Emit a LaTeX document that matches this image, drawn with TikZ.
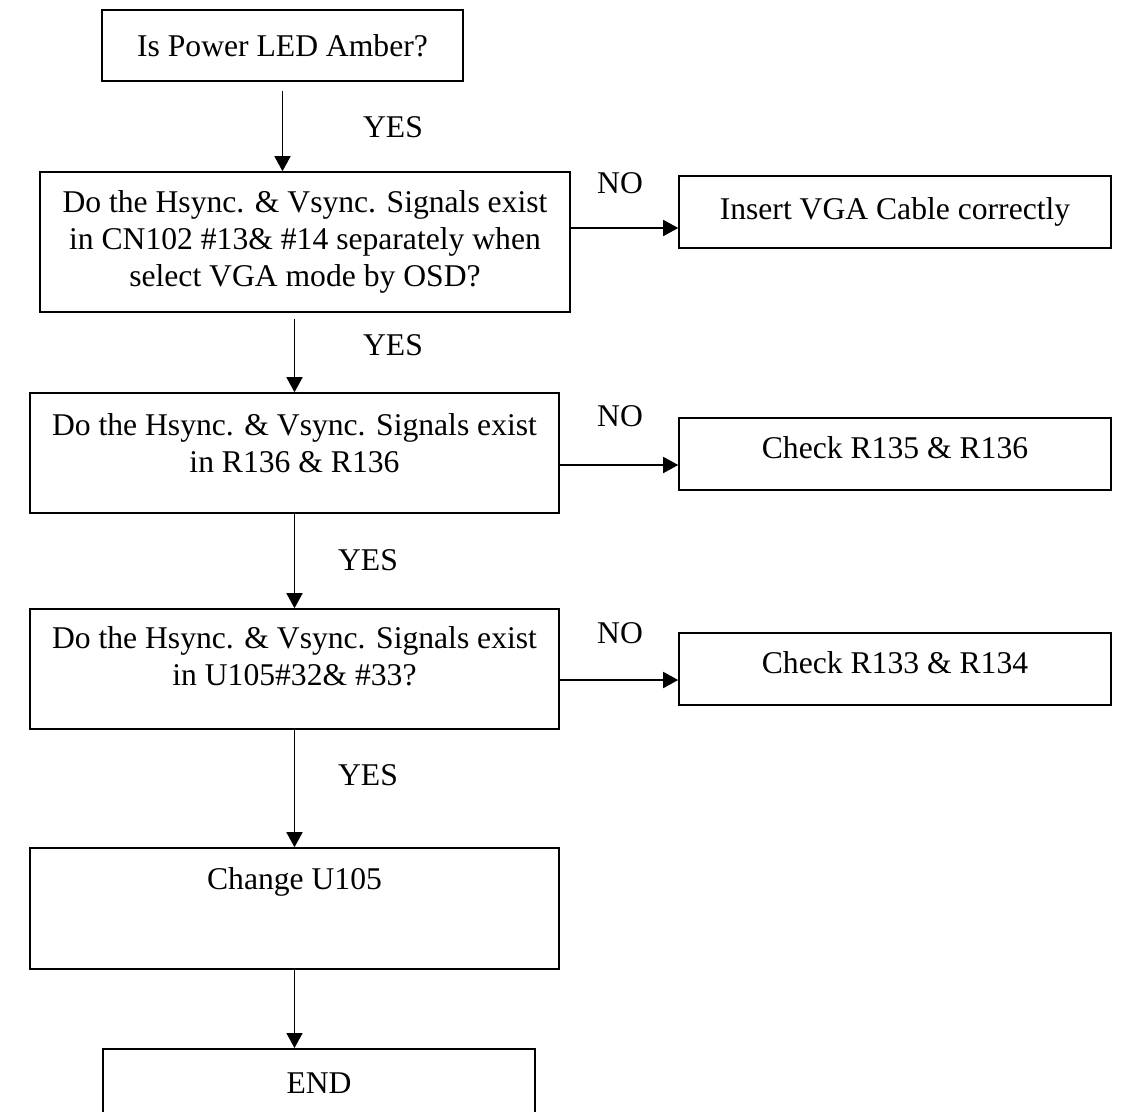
\documentclass[tikz,border=0pt]{standalone}
\usepackage{fontspec}
\setmainfont{Liberation Serif}
\usetikzlibrary{arrows.meta}

\tikzset{
	box/.style={shape=rectangle, draw=black, line width=0.9pt, align=center, inner sep=0pt},
	flow/.style={-{Triangle[length=0.3cm,width=0.32cm]}, line width=0.9pt},
}

\begin{document}
\begin{tikzpicture}[font=\fontsize{18}{21}\selectfont]
	
	\clip (0,0) rectangle (22.46,-22.22);
	\fill[white] (0,0) rectangle (22.46,-22.22);
	
	\node[box, minimum width=7.22cm, minimum height=1.42cm] (start) at (5.65, -0.91)  {Is Power LED Amber?};
	\node[box, minimum width=10.6cm, minimum height=2.8cm] (q1) at (6.1, -4.84)       {Do the Hsync. \& Vsync. Signals exist\\in CN102 \#13\& \#14 separately when\\select VGA mode by OSD?};
	\node[box, minimum width=8.64cm, minimum height=1.44cm] (cable) at (17.9, -4.24)  {Insert VGA Cable correctly};
	\node[box, minimum width=10.58cm, minimum height=2.4cm, text depth=0.4cm] (q2) at (5.89, -9.06)   {Do the Hsync. \& Vsync. Signals exist\\in R136 \& R136};
	\node[box, minimum width=8.64cm, minimum height=1.44cm, text depth=0.24cm] (r135) at (17.9, -9.08) {Check R135 \& R136};
	\node[box, minimum width=10.58cm, minimum height=2.4cm, text depth=0.52cm] (q3) at (5.89, -13.38)  {Do the Hsync. \& Vsync. Signals exist\\in U105\#32\& \#33?};
	\node[box, minimum width=8.64cm, minimum height=1.44cm, text depth=0.24cm] (r133) at (17.9, -13.38) {Check R133 \& R134};
	\node[box, minimum width=10.58cm, minimum height=2.42cm, text depth=1.2cm] (change) at (5.89, -18.17) {Change U105};
	\node[box, minimum width=8.64cm, minimum height=1.36cm, anchor=north] (end) at (6.38, -20.96) {END};
	
	\node (yes1) at (7.86, -2.54)  {YES};
	\node (yes2) at (7.86, -6.9)   {YES};
	\node (yes3) at (7.36, -11.2)  {YES};
	\node (yes4) at (7.36, -15.5)  {YES};
	\node (no1)  at (12.4, -3.66)  {NO};
	\node (no2)  at (12.4, -8.32)  {NO};
	\node (no3)  at (12.4, -12.66) {NO};
	
	\draw[flow, shorten <=0.18cm] (start.south) -- (start.south |- q1.north);
	\draw[flow, shorten <=0.12cm] (q2.north |- q1.south) -- (q2.north);
	\draw[flow] (q2.south) -- (q3.north);
	\draw[flow] (q3.south) -- (change.north);
	\draw[flow] (change.south) -- (change.south |- end.north);
	
	\draw[flow] ([yshift=0.28cm]q1.east) -- ([yshift=0.28cm]q1.east -| cable.west);
	\draw[flow] ([yshift=-0.24cm]q2.east) -- ([yshift=-0.24cm]q2.east -| r135.west);
	\draw[flow] ([yshift=-0.22cm]q3.east) -- ([yshift=-0.22cm]q3.east -| r133.west);
	
\end{tikzpicture}
\end{document}
